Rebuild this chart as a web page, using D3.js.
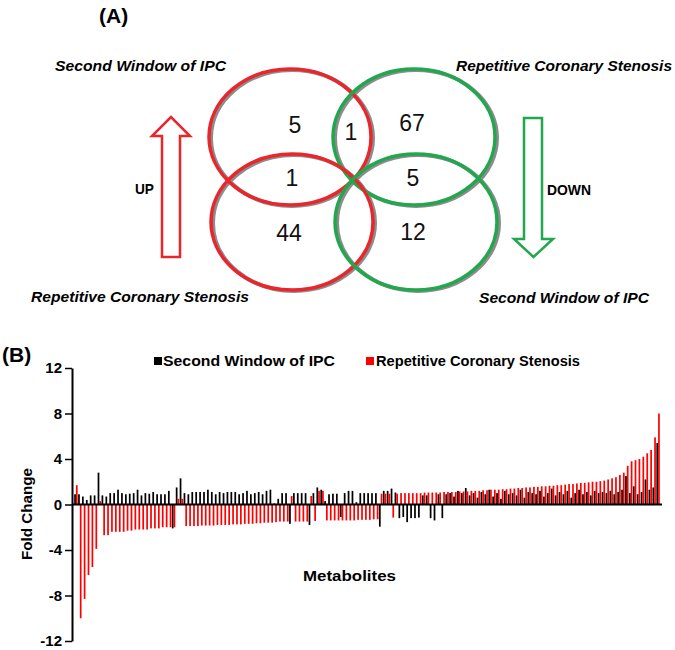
<!DOCTYPE html>
<html><head><meta charset="utf-8">
<script src="https://cdn.jsdelivr.net/npm/d3@7"></script>
<style>body{margin:0;background:#fff}svg{display:block;font-family:Arial,"Liberation Sans",sans-serif}</style>
</head><body><svg id="c" width="675" height="650"></svg>
<script>
// ---- Panel A data ----
const vennLabels = ["Second Window of IPC","Repetitive Coronary Stenosis","Repetitive Coronary Stenosis","Second Window of IPC"];
const vennCounts = [5, 1, 67, 1, 5, 44, 12];
const arrowLabels = ["UP","DOWN"];

// ---- Panel B data ----
const seriesNames = ["Second Window of IPC","Repetitive Coronary Stenosis"];
const yTicks = [-12,-8,-4,0,4,8,12];
const secondWindow = [
 0.9,0.9,0.7,0.4,0.8,0.8,2.8,
 0.8,0.7,1.0,1.0,1.3,1.0,0.9,0.95,1.0,1.3,0.8,1.0,0.95,1.1,0.9,0.9,0.9,1.2,
 -2.1,1.5,2.3,
 1.0,0.9,1.1,1.1,1.1,1.1,1.3,1.1,0.9,1.1,1.0,1.1,1.1,1.1,0.9,1.0,1.2,0.9,1.0,1.1,0.9,1.2,1.3,0.1,
 0.5,1.0,1.0,-1.7,1.0,1.0,1.0,1.0,-1.8,1.0,1.5,1.3,
 0.3,0.9,0.95,0.95,-1.1,1.0,1.2,1.2,0.2,1.0,1.0,1.0,1.0,1.0,
 -1.95,1.2,1.2,1.4,1.05,-1.2,-1.1,-1.55,-1.2,-1.2,-1.15,0.8,0.8,-1.2,-1.4,0.9,-1.2,
 0.9,1.0,0.7,1.2,1.0,1.45,0.8,1.0,0.6,1.1,0.9,1.3,0.7,1.0,0.5,1.2,0.9,1.0,0.8,1.3,
 0.6,1.1,1.0,0.9,1.2,0.7,1.0,1.4,0.8,1.1,0.9,1.2,0.6,1.0,1.3,0.9,1.1,0.8,1.2,1.0,1.1,
 1.0,1.2,0.9,1.1,1.3,2.5,1.0,1.6,0.9,1.1,2.2,1.3,1.5,5.4
];
const repetitiveStenosis = [
 1.7,-10.0,-8.3,-6.2,-5.5,-3.9,0.3,
 -2.7,-2.7,-2.4,-2.4,-2.4,-2.4,-2.3,-2.3,-2.2,-2.2,-2.2,-2.2,-2.1,-2.1,-2.1,-2.0,-2.0,-2.0,
 -2.0,0.5,0.5,
 -1.9,-1.9,-1.9,-1.9,-1.85,-1.85,-1.85,-1.85,-1.8,-1.8,-1.8,-1.8,-1.75,-1.75,-1.75,-1.7,-1.7,-1.7,-1.65,-1.65,-1.6,-1.6,-1.6,-1.55,
 -1.5,-1.5,-1.5,0.75,-1.5,-1.5,-1.5,-1.5,0.75,-1.45,1.2,1.2,
 -1.4,-1.4,-1.4,-1.4,-1.4,-1.4,-1.4,-1.4,-1.35,-1.35,-1.35,-1.35,-1.3,-1.3,
 0.95,0.95,0.95,-1.15,0.95,1.0,1.0,1.0,1.0,1.0,1.0,1.05,1.05,1.05,1.05,1.05,1.1,
 1.1,1.1,1.1,1.15,1.15,1.15,1.2,1.2,1.2,1.25,1.25,1.3,1.3,1.3,1.35,1.35,1.4,1.4,1.45,1.45,
 1.5,1.5,1.55,1.55,1.6,1.6,1.65,1.65,1.7,1.7,1.75,1.8,1.8,1.85,1.9,1.9,1.95,2.0,2.0,2.05,2.1,
 2.2,2.3,2.4,2.6,2.8,3.4,3.8,3.9,4.0,4.2,4.5,4.8,5.9,8.0
];
const metabolites = secondWindow.map((_, i) => "M" + (i + 1));

const svg = d3.select("#c");
svg.append("rect").attr("width",675).attr("height",650).attr("fill","#fff");

const RED = "#e8262b", GREEN = "#22a74f", GREY = "#8c8c8c";

// ---------- Panel A ----------
const A = svg.append("g");
A.append("text").attr("x",99).attr("y",23).attr("font-size",21).attr("font-weight","bold").text("(A)");

const ell = [
  {cx:290, cy:137, c:RED},
  {cx:414, cy:137, c:GREEN},
  {cx:292, cy:222, c:RED},
  {cx:416, cy:222, c:GREEN}
];
const rx = 81, ry = 68;
ell.forEach(e => {
  A.append("ellipse").attr("cx",e.cx+2).attr("cy",e.cy+1).attr("rx",rx).attr("ry",ry)
    .attr("fill","none").attr("stroke",GREY).attr("stroke-width",4);
});
ell.forEach(e => {
  A.append("ellipse").attr("cx",e.cx).attr("cy",e.cy).attr("rx",rx).attr("ry",ry)
    .attr("fill","none").attr("stroke",e.c).attr("stroke-width",3.5);
});

const countPos = [[295,125],[351,132],[412,123],[292,178],[413,178],[289,233],[413,232]];
A.selectAll("text.cnt").data(vennCounts).join("text").attr("class","cnt")
  .attr("x",(d,i)=>countPos[i][0]).attr("y",(d,i)=>countPos[i][1]+8)
  .attr("text-anchor","middle").attr("font-size",23).attr("fill","#111").text(d=>d);

const labPos = [[55,71,171],[456,71,216],[31,302,218],[479,303,170]];
A.selectAll("text.vl").data(vennLabels).join("text").attr("class","vl")
  .attr("x",(d,i)=>labPos[i][0]).attr("y",(d,i)=>labPos[i][1])
  .attr("font-size",15).attr("font-weight","bold").attr("font-style","italic")
  .attr("textLength",(d,i)=>labPos[i][2]).attr("lengthAdjust","spacingAndGlyphs")
  .text(d=>d);

// arrows
A.append("path").attr("d","M162,257 L162,136 L152,136 L171,117 L190,136 L180,136 L180,257 Z")
  .attr("fill","#fff").attr("stroke",RED).attr("stroke-width",2.5);
A.append("path").attr("d","M524,118 L542,118 L542,239 L553,239 L533.5,257 L514,239 L524,239 Z")
  .attr("fill","#fff").attr("stroke",GREEN).attr("stroke-width",2.5);
A.append("text").attr("x",135).attr("y",194).attr("font-size",15).attr("font-weight","bold")
  .attr("textLength",19).attr("lengthAdjust","spacingAndGlyphs").text(arrowLabels[0]);
A.append("text").attr("x",547).attr("y",195).attr("font-size",15).attr("font-weight","bold")
  .attr("textLength",44).attr("lengthAdjust","spacingAndGlyphs").text(arrowLabels[1]);

// ---------- Panel B ----------
const B = svg.append("g");
B.append("text").attr("x",2).attr("y",362).attr("font-size",21).attr("font-weight","bold").text("(B)");

const y = d3.scaleLinear().domain([-12,12]).range([641,368]);
const x = d3.scaleBand().domain(metabolites).range([74,660]).paddingInner(0.12).paddingOuter(0.05);
const sub = d3.scaleBand().domain(seriesNames).range([0, x.bandwidth()]).padding(0);

const bars = B.append("g");
bars.selectAll("rect.sw").data(secondWindow).join("rect").attr("class","sw")
  .attr("x",(d,i)=>x(metabolites[i])+sub(seriesNames[0]))
  .attr("width",sub.bandwidth())
  .attr("y",d=>y(Math.max(0,d))).attr("height",d=>Math.abs(y(d)-y(0)))
  .attr("fill","#000");
bars.selectAll("rect.rcs").data(repetitiveStenosis).join("rect").attr("class","rcs")
  .attr("x",(d,i)=>x(metabolites[i])+sub(seriesNames[1]))
  .attr("width",sub.bandwidth())
  .attr("y",d=>y(Math.max(0,d))).attr("height",d=>Math.abs(y(d)-y(0)))
  .attr("fill","#ff0000");

// x axis baseline
B.append("line").attr("x1",72).attr("x2",662).attr("y1",y(0)).attr("y2",y(0)).attr("stroke","#000").attr("stroke-width",1.8);

const yAxis = B.append("g").attr("transform","translate(72,0)")
  .call(d3.axisLeft(y).tickValues(yTicks).tickSize(7).tickSizeOuter(0).tickPadding(3).tickFormat(d => String(d)));
yAxis.select(".domain").attr("stroke","#000").attr("stroke-width",2);
yAxis.selectAll(".tick line").attr("stroke","#000").attr("stroke-width",1.5);
yAxis.selectAll(".tick text").attr("font-size",15).attr("font-weight","bold").attr("fill","#000")
  .attr("font-family","Arial,'Liberation Sans',sans-serif");

B.append("text").attr("transform","translate(32,514) rotate(-90)").attr("text-anchor","middle")
  .attr("font-size",15).attr("font-weight","bold").attr("textLength",92).attr("lengthAdjust","spacingAndGlyphs").text("Fold Change");
B.append("text").attr("x",303).attr("y",581)
  .attr("font-size",15).attr("font-weight","bold").attr("textLength",93).attr("lengthAdjust","spacingAndGlyphs").text("Metabolites");

// legend
const leg = [{sx:154, tx:163, tl:172, c:"#000"},{sx:366, tx:376, tl:204, c:"#ff0000"}];
leg.forEach((l,i)=>{
  B.append("rect").attr("x",l.sx).attr("y",357).attr("width",8).attr("height",8).attr("fill",l.c);
  B.append("text").attr("x",l.tx).attr("y",366).attr("font-size",14).attr("font-weight","bold")
    .attr("textLength",l.tl).attr("lengthAdjust","spacingAndGlyphs").text(seriesNames[i]);
});
</script></body></html>
